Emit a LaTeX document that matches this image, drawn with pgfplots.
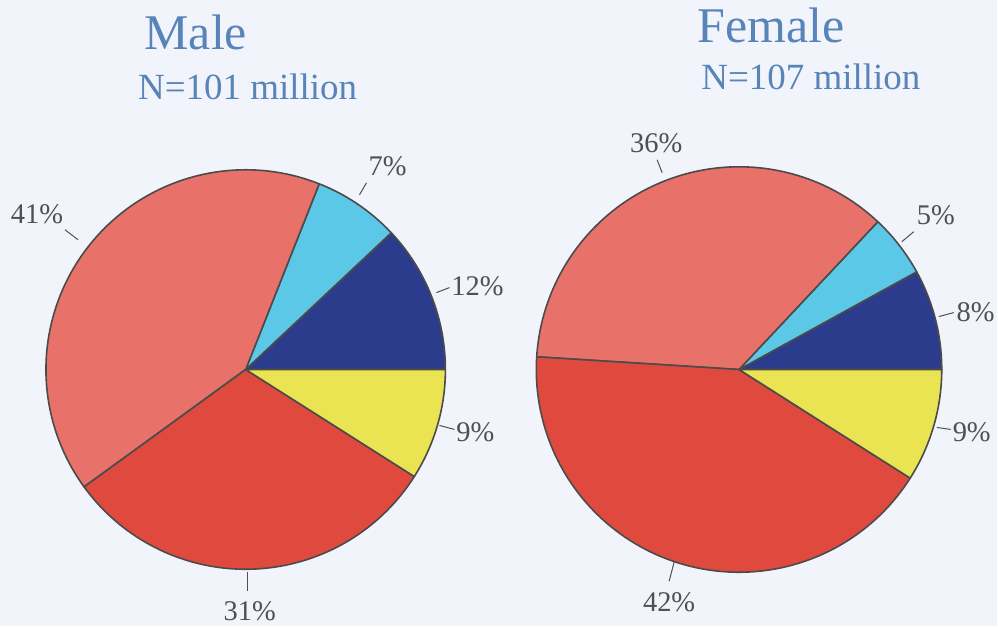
\documentclass[border=0pt]{standalone}
\usepackage{pgfplots}
\pgfplotsset{compat=1.18}
\usepackage{fontspec}
\setmainfont{Liberation Serif}
\definecolor{bg}{RGB}{242,244,251}
\definecolor{salmon}{RGB}{232,114,106}
\definecolor{redc}{RGB}{224,74,62}
\definecolor{cyanc}{RGB}{92,200,232}
\definecolor{navy}{RGB}{44,60,140}
\definecolor{yel}{RGB}{234,228,82}
\definecolor{edge}{RGB}{75,75,75}
\definecolor{titlec}{RGB}{88,132,186}
\definecolor{lab}{RGB}{80,80,80}
% #1 cx, #2 cy, #3 radius, #4 cumulative start (%), #5 share (%), #6 colour
\newcommand{\slice}[6]{%
  \addplot[fill=#6, draw=edge, line width=1.6pt, line join=round,
    domain=#4*3.6:(#4+#5)*3.6, samples=90]
    ({#1+#3*cos(x)}, {#2-#3*sin(x)}) -- (axis cs:#1,#2) -- cycle;}
\newcommand{\lbl}[3]{\node[lab, anchor=base, font=\fontsize{28.5}{28.5}\selectfont] at (axis cs:#1,#2) {#3};}
\newcommand{\ldr}[4]{\draw[lab, line width=1pt] (axis cs:#1,#2) -- (axis cs:#3,#4);}
\begin{document}
\begin{tikzpicture}
\fill[bg] (0,0) rectangle (998pt,627pt);
\begin{axis}[at={(0,0)}, anchor=south west,
  width=998pt, height=627pt, scale only axis,
  xmin=0, xmax=998, ymin=0, ymax=627, y dir=reverse,
  hide axis, clip=false]
% Male: navy 12, cyan 7, salmon 41, red 31, yellow 9
\slice{246}{370}{200}{0}{12}{navy}
\slice{246}{370}{200}{12}{7}{cyanc}
\slice{246}{370}{200}{19}{41}{salmon}
\slice{246}{370}{200}{60}{31}{redc}
\slice{246}{370}{200}{91}{9}{yel}
% Female: navy 8, cyan 5, salmon 36, red 42, yellow 9
\slice{740}{370}{203}{0}{8}{navy}
\slice{740}{370}{203}{8}{5}{cyanc}
\slice{740}{370}{203}{13}{36}{salmon}
\slice{740}{370}{203}{49}{42}{redc}
\slice{740}{370}{203}{91}{9}{yel}
% titles
\node[titlec, anchor=base, font=\fontsize{50}{50}\selectfont] at (axis cs:196,50) {Male};
\node[titlec, anchor=base, font=\fontsize{37}{37}\selectfont] at (axis cs:248,100) {N=101 million};
\node[titlec, anchor=base, font=\fontsize{50}{50}\selectfont] at (axis cs:772,43) {Female};
\node[titlec, anchor=base, font=\fontsize{37}{37}\selectfont] at (axis cs:812,90) {N=107 million};
% labels male
\lbl{388}{176}{7\%}
\lbl{478}{296}{12\%}
\lbl{476}{442}{9\%}
\lbl{250}{621}{31\%}
\lbl{37}{224}{41\%}
\ldr{360}{195}{367}{183}
\ldr{437}{293}{450}{288}
\ldr{440}{426}{455}{430}
\ldr{248}{573}{248}{592}
\ldr{65}{230}{78}{240}
% labels female
\lbl{657}{153}{36\%}
\lbl{937}{225}{5\%}
\lbl{977}{322}{8\%}
\lbl{973}{442}{9\%}
\lbl{670}{612}{42\%}
\ldr{658}{160}{663}{173}
\ldr{915}{232}{903}{242}
\ldr{940}{317}{955}{313}
\ldr{938}{428}{952}{430}
\ldr{675}{563}{670}{582}
\end{axis}
\end{tikzpicture}
\end{document}
